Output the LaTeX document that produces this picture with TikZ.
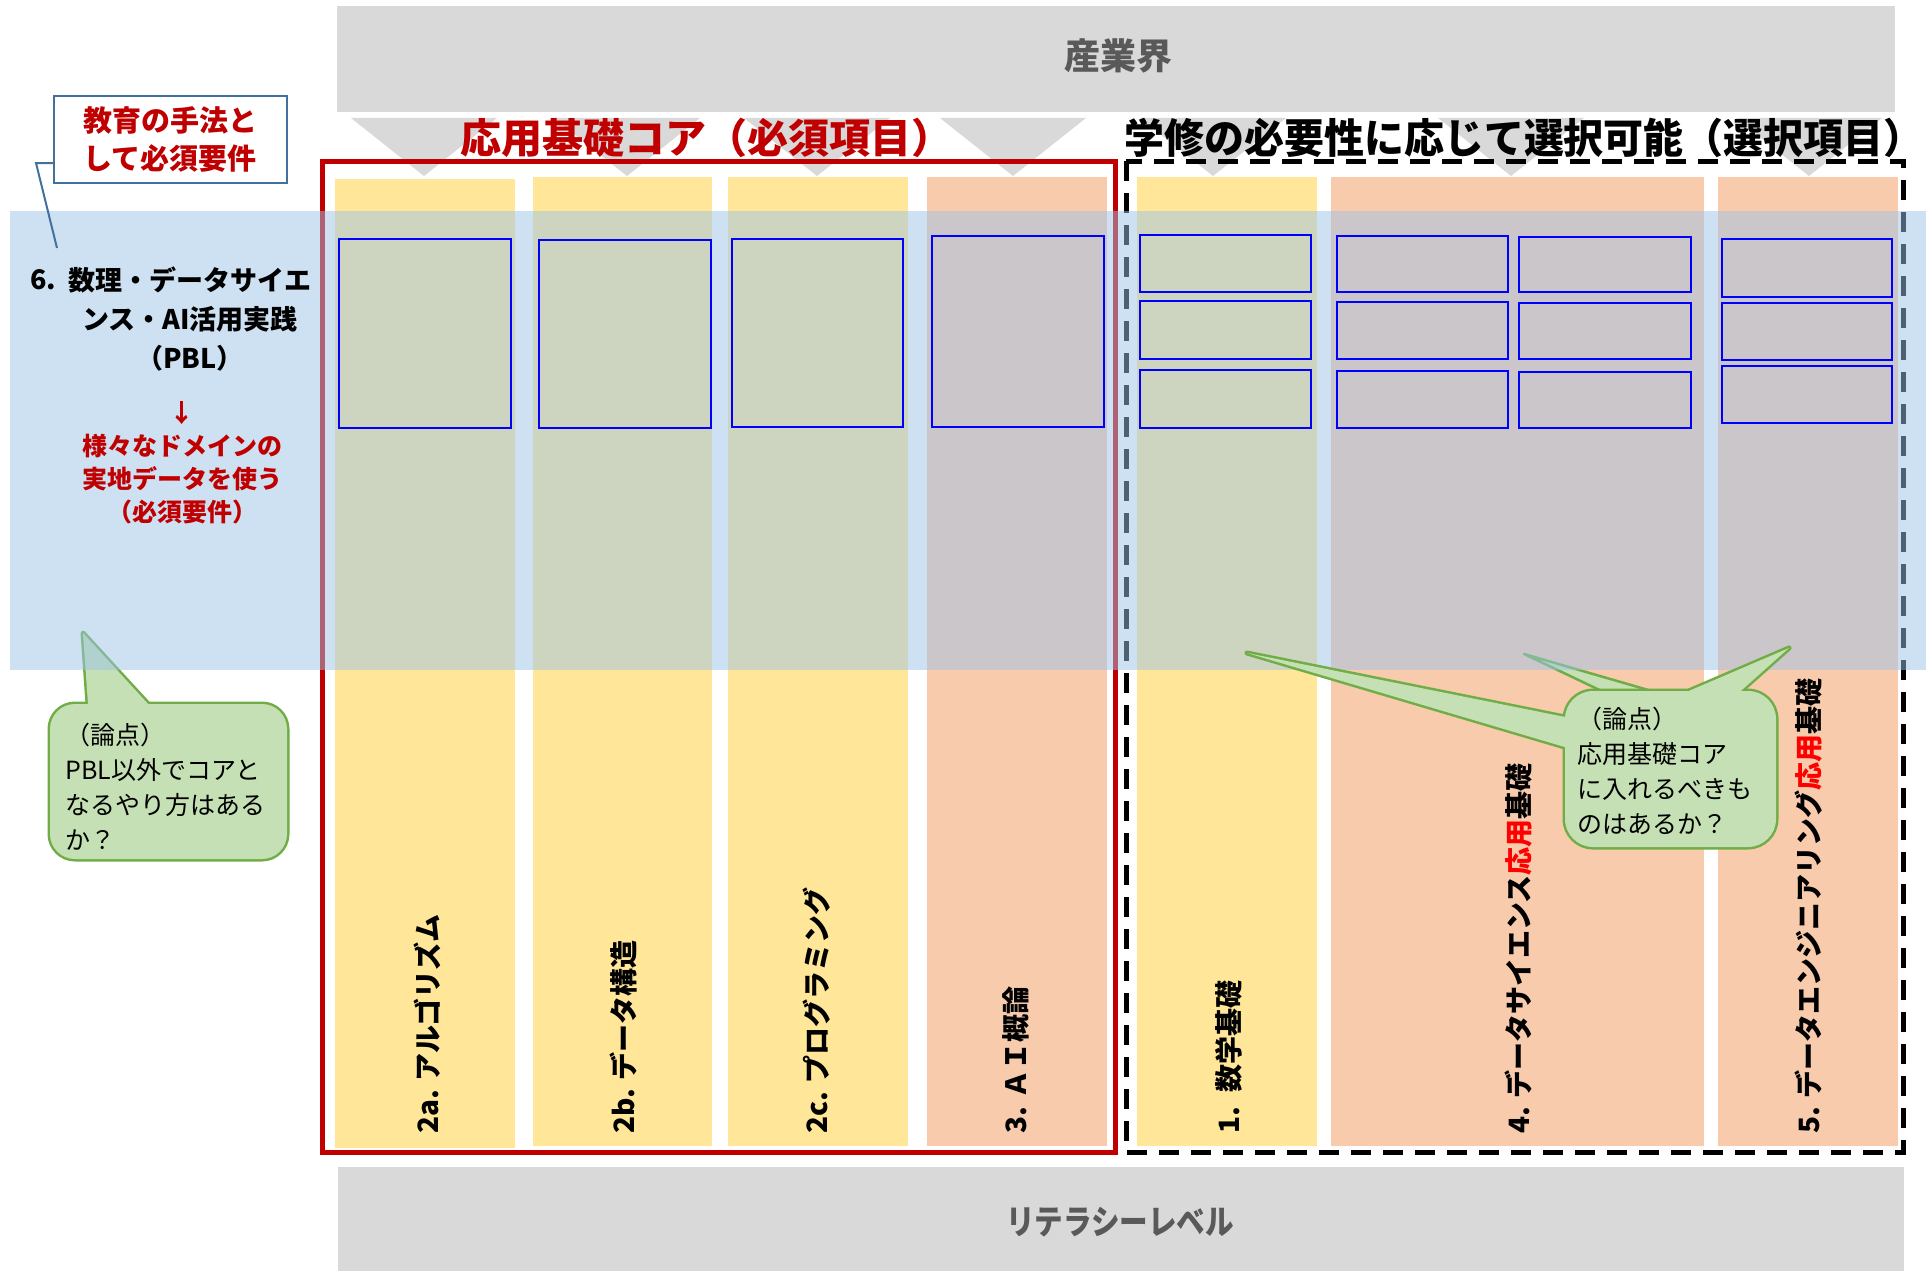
\documentclass[tikz,border=0pt]{standalone}
\usepackage{fontspec}
\setmainfont{Noto Sans CJK JP}
\definecolor{yellowcol}{HTML}{FFE699}
\definecolor{orangecol}{HTML}{F8CBAD}
\definecolor{graybar}{HTML}{D9D9D9}
\definecolor{graytext}{HTML}{595959}
\definecolor{darkred}{HTML}{C00000}
\definecolor{brightred}{HTML}{FF0000}
\definecolor{bandblue}{HTML}{9DC3E6}
\definecolor{bubblefill}{HTML}{C5E0B4}
\definecolor{bubbleline}{HTML}{70AD47}
\definecolor{steel}{HTML}{41719C}
\newcommand\myfs[2]{\fontsize{#1pt}{#2pt}\selectfont}
\begin{document}
\begin{tikzpicture}[x=1pt,y=-1pt,
  bartext/.style={text=graytext, font=\myfs{36}{40}\bfseries, inner sep=0},
  tri/.style={fill=graybar},
  colY/.style={fill=yellowcol},
  colO/.style={fill=orangecol},
  collabel/.style={rotate=90, anchor=west, inner sep=0, font=\myfs{28}{32}\bfseries, text=black},
  bluebox/.style={draw=blue, line width=2.5pt},
  redframe/.style={draw=darkred, line width=5pt},
  dashframe/.style={draw=black, line width=5pt, dash pattern=on 20pt off 12pt},
  bubbleborder/.style={draw=bubbleline, line width=5pt, line join=round},
  bubblebody/.style={fill=bubblefill},
  bubbletext/.style={font=\myfs{25}{36}, align=left, anchor=west, inner sep=0, text=black},
  titletext/.style={font=\myfs{41}{46}\bfseries, inner sep=0}
]
\useasboundingbox (0,0) rectangle (1926,1271);

% top and bottom bars
\fill[graybar] (337,6) rectangle (1895,112);
\node[bartext] (sangyo) at (1118,56) {産業界};
\fill[graybar] (338,1167) rectangle (1904,1271);
\node[bartext, font=\myfs{34}{40}\bfseries] (literacy) at (1120,1222) {\scalebox{0.84}[1]{リテラシーレベル}};

% triangles
\foreach \cx in {424,627,817,1013,1213,1511,1809} {
  \fill[tri] (\cx-73,118) -- (\cx+73,118) -- (\cx,176) -- cycle;
}

% columns
\fill[colY] (335,179) rectangle (515,1148);
\fill[colY] (533,177) rectangle (712,1146);
\fill[colY] (728,177) rectangle (908,1146);
\fill[colO] (927,177) rectangle (1107,1146);
\fill[colY] (1137,177) rectangle (1317,1146);
\fill[colO] (1331,177) rectangle (1704,1146);
\fill[colO] (1718,177) rectangle (1898,1146);

% column labels
\node[collabel] (l2a) at (427,1134) {2a. アルゴリズム};
\node[collabel] (l2b) at (624,1134) {2b. データ構造};
\node[collabel] (l2c) at (817,1134) {2c. プログラミング};
\node[collabel] (l3) at (1016,1134) {3. ＡＩ概論};
\node[collabel] (l1) at (1229,1134) {1.\enspace 数学基礎};
\node[collabel] (l4) at (1519,1134) {4. データサイエンス\textcolor{brightred}{応用}基礎};
\node[collabel] (l5) at (1809,1134) {5. データエンジニアリング\textcolor{brightred}{応用}基礎};

% frames
\draw[redframe] (322,161) rectangle (1115,1152);
\draw[dashframe] (1126,161) rectangle (1903,1152);

% left bubble (drawn below the band)
\draw[bubbleborder] (50,704) [rounded corners=25pt] rectangle (287,859);
\draw[bubbleborder] (89,718) -- (83,633) -- (161,718);
\fill[bubblebody] (50,704) [rounded corners=25pt] rectangle (287,859);
\fill[bubblebody] (89,718) -- (83,633) -- (161,718) -- cycle;
\node[bubbletext, font=\myfs{25}{35}] (q1) at (65,787) {（論点）\\PBL以外でコアと\\なるやり方はある\\か？};

% right bubble middle pointer (below the band)
\draw[fill=bubblefill, draw=bubbleline, line width=2.5pt, line join=round] (1631,705) -- (1524,654) -- (1700,705) -- cycle;

% blue band
\fill[bandblue, fill opacity=0.5] (10,211) rectangle (1926,670);

% blue boxes
\draw[bluebox] (339,239) rectangle (511,428);
\draw[bluebox] (539,240) rectangle (711,428);
\draw[bluebox] (732,239) rectangle (903,427);
\draw[bluebox] (932,236) rectangle (1104,427);
\foreach \ya/\yb in {235/292, 301/359, 370/428} {
  \draw[bluebox] (1140,\ya) rectangle (1311,\yb);
  \draw[bluebox] (1337,\ya+1) rectangle (1508,\yb);
  \draw[bluebox] (1519,\ya+2) rectangle (1691,\yb);
}
\draw[bluebox] (1722,239) rectangle (1892,297);
\draw[bluebox] (1722,303) rectangle (1892,360);
\draw[bluebox] (1722,366) rectangle (1892,423);

% right bubble (above the band)
\draw[bubbleborder] (1565,691) [rounded corners=28pt] rectangle (1776,847);
\draw[bubbleborder] (1585,721) -- (1247,653) -- (1585,753);
\draw[bubbleborder] (1656,705) -- (1789,648) -- (1725,705);
\fill[bubblebody] (1565,691) [rounded corners=28pt] rectangle (1776,847);
\fill[bubblebody] (1585,721) -- (1247,653) -- (1585,753) -- cycle;
\fill[bubblebody] (1656,705) -- (1789,648) -- (1725,705) -- cycle;
\node[bubbletext, font=\myfs{25}{35}] (q2) at (1577,771) {（論点）\\応用基礎コア\\に入れるべきも\\のはあるか？};

% titles
\node[titletext, text=darkred] (core) at (706,138) {応用基礎コア（必須項目）};
\node[titletext, text=black] (opt) at (1524,138) {\scalebox{0.975}[1]{学修の必要性に応じて選択可能（選択項目）}};

% left callout
\node[draw=steel, line width=2pt, fill=white, minimum width=233pt, minimum height=86pt,
      align=center, text=darkred, font=\myfs{29}{38}\bfseries, inner sep=0] (goal) at (170,139.5) {教育の手法と\\して必須要件};
\coordinate (goalA) at (54,163);
\coordinate (goalB) at (36,163);
\coordinate (goalC) at (57,248);
\draw[steel, line width=2pt] (goalA) -- (goalB) -- (goalC);

% PBL text
\node[anchor=west, inner sep=0, font=\myfs{27}{39}\bfseries] (num6) at (30,280) {6.};
\node[align=center, inner sep=0, font=\myfs{27}{39}\bfseries] (pbl) at (190,319) {数理・データサイエ\\ンス・AI活用実践\\（PBL）};
\node[align=center, inner sep=0, text=darkred, font=\myfs{25}{33}\bfseries] (dom) at (182,463) {↓\\様々なドメインの\\実地データを使う\\（必須要件）};

\end{tikzpicture}
\end{document}
